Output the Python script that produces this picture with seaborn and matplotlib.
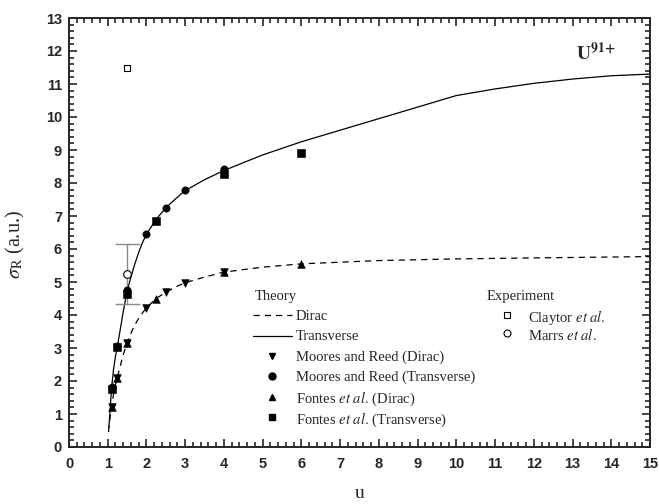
import matplotlib
matplotlib.use("Agg")
import matplotlib.pyplot as plt
import seaborn as sns
from matplotlib.ticker import MultipleLocator, AutoMinorLocator

# theory curves
u_dirac = [1.02, 1.05, 1.1, 1.15, 1.2, 1.25, 1.3, 1.4, 1.5, 1.6, 1.7, 1.8, 1.9, 2.0,
           2.25, 2.5, 2.75, 3.0, 3.5, 4.0, 5.0, 6.0, 8.0, 10.0, 12.0, 15.0]
sigma_dirac = [0.45, 0.8, 1.22, 1.6, 1.9, 2.1, 2.35, 2.8, 3.14, 3.45, 3.7, 3.9, 4.07, 4.22,
               4.5, 4.69, 4.85, 4.98, 5.15, 5.3, 5.45, 5.55, 5.65, 5.7, 5.73, 5.77]
u_trans = [1.03, 1.06, 1.1, 1.15, 1.2, 1.25, 1.3, 1.4, 1.5, 1.6, 1.7, 1.8, 1.9, 2.0,
           2.25, 2.5, 2.75, 3.0, 3.5, 4.0, 5.0, 6.0, 7.0, 8.0, 9.0, 10.0, 11.0, 12.0,
           13.0, 14.0, 15.0]
sigma_trans = [0.6, 1.1, 1.8, 2.35, 2.75, 3.05, 3.4, 4.1, 4.72, 5.15, 5.55, 5.9, 6.2, 6.45,
               6.9, 7.25, 7.52, 7.77, 8.1, 8.38, 8.85, 9.25, 9.6, 9.95, 10.3, 10.65, 10.85,
               11.02, 11.15, 11.25, 11.3]

# calculated points
mr_dirac_u = [1.1, 1.25, 1.5, 2.0, 2.5, 3.0, 4.0]
mr_dirac_s = [1.22, 2.1, 3.14, 4.22, 4.69, 4.98, 5.3]
mr_trans_u = [1.1, 1.25, 1.5, 2.0, 2.5, 3.0, 4.0]
mr_trans_s = [1.83, 3.06, 4.75, 6.44, 7.25, 7.78, 8.41]
fo_dirac_u = [1.1, 1.25, 1.5, 2.25, 4.0, 6.0]
fo_dirac_s = [1.22, 2.1, 3.14, 4.5, 5.3, 5.56]
fo_trans_u = [1.1, 1.25, 1.5, 2.25, 4.0, 6.0]
fo_trans_s = [1.75, 3.04, 4.65, 6.85, 8.27, 8.9]

# experiment
claytor_u = [1.5]
claytor_s = [11.47]
marrs_u = [1.5]
marrs_s = [5.23]
marrs_err = [0.91]

theory_labels = [
    "Dirac",
    "Transverse",
    "Moores and Reed (Dirac)",
    "Moores and Reed (Transverse)",
    r"Fontes $\mathit{et\ al.}\,$(Dirac)",
    r"Fontes $\mathit{et\ al.}\,$(Transverse)",
]
exp_labels = [r"Claytor $\mathit{et\ al.}$", r"Marrs $\mathit{et\ al.}$"]

sns.set_style("ticks")
plt.rcParams["mathtext.fontset"] = "stix"
plt.rcParams["font.family"] = ["Liberation Serif", "DejaVu Serif"]

W, H = 659, 504
fig, ax = plt.subplots(figsize=(W / 100, H / 100), dpi=100)
fig.subplots_adjust(left=69 / W, right=650 / W, bottom=1 - 447 / H, top=1 - 18 / H)

dash = (0, (5, 4))
sns.lineplot(x=u_dirac, y=sigma_dirac, ax=ax, color="black", lw=0.9,
             linestyle=dash, sort=False, estimator=None)
sns.lineplot(x=u_trans, y=sigma_trans, ax=ax, color="black", lw=0.9,
             sort=False, estimator=None)

ax.errorbar(marrs_u, marrs_s, yerr=marrs_err, fmt="none", ecolor="#8a8a8a",
            elinewidth=1.0, capsize=9, capthick=1.0, zorder=2)

sns.scatterplot(x=mr_dirac_u, y=mr_dirac_s, ax=ax, marker="v", s=30, color="black",
                edgecolor="black", zorder=3)
sns.scatterplot(x=fo_dirac_u, y=fo_dirac_s, ax=ax, marker="^", s=30, color="black",
                edgecolor="black", zorder=3)
sns.scatterplot(x=mr_trans_u, y=mr_trans_s, ax=ax, marker="o", s=28, color="black",
                edgecolor="black", zorder=3)
sns.scatterplot(x=fo_trans_u, y=fo_trans_s, ax=ax, marker="s", s=26, color="black",
                edgecolor="black", zorder=3)
sns.scatterplot(x=claytor_u, y=claytor_s, ax=ax, marker="s", s=22, facecolor="white",
                edgecolor="black", linewidth=0.8, zorder=3)
sns.scatterplot(x=marrs_u, y=marrs_s, ax=ax, marker="o", s=30, facecolor="white",
                edgecolor="black", linewidth=0.8, zorder=4)

ax.set_xlim(0, 15)
ax.set_ylim(0, 13)
ax.xaxis.set_major_locator(MultipleLocator(1))
ax.yaxis.set_major_locator(MultipleLocator(1))
ax.xaxis.set_minor_locator(AutoMinorLocator(5))
ax.yaxis.set_minor_locator(AutoMinorLocator(5))
ax.tick_params(which="both", direction="in", top=True, right=True, width=1.2)
ax.tick_params(which="major", length=6)
ax.tick_params(which="minor", length=3.5)
ax.tick_params(axis="x", pad=7)
ax.tick_params(axis="y", pad=5)
for lab in ax.get_xticklabels() + ax.get_yticklabels():
    lab.set_fontfamily("Liberation Sans")
    lab.set_fontweight("bold")
    lab.set_fontsize(10.5)
for sp in ax.spines.values():
    sp.set_linewidth(1.4)

ax.set_xlabel("u", fontsize=14, labelpad=10)
ax.set_ylabel(r"$\sigma_\mathrm{R}$ (a.u.)", fontsize=14.5)
ax.yaxis.set_label_coords(-0.072, 0.472)

ax.text(13.1, 11.73, r"$\mathbf{U}^{\mathbf{91{+}}}$", fontsize=14, ha="left",
        va="baseline")

# legend blocks, laid out by hand in figure pixels
fs = 10.5


def fx(px):
    return px / W


def fy(py):
    return 1 - py / H


tr = fig.transFigure
fig.text(fx(255), fy(295), "Theory", fontsize=fs, ha="left", va="center_baseline")
rows = [315, 335.5, 356, 376, 396.5, 417]
fig.add_artist(plt.Line2D([fx(253), fx(292)], [fy(rows[0])] * 2, color="black",
                          lw=0.9, linestyle=dash, transform=tr))
fig.add_artist(plt.Line2D([fx(253), fx(292)], [fy(rows[1])] * 2, color="black",
                          lw=0.9, transform=tr))
for py, m, ms in zip(rows[2:], ["v", "o", "^", "s"], [5, 5, 5, 4.5]):
    fig.add_artist(plt.Line2D([fx(272)], [fy(py)], color="black", marker=m, ms=ms,
                              ls="none", transform=tr))
for py, lab in zip(rows, theory_labels):
    fig.text(fx(296), fy(py), lab, fontsize=fs, ha="left", va="center_baseline")

fig.text(fx(487), fy(295), "Experiment", fontsize=fs, ha="left", va="center_baseline")
exp_rows = [315, 333]
for py, m, ms, lab in zip(exp_rows, ["s", "o"], [4.5, 5], exp_labels):
    fig.add_artist(plt.Line2D([fx(507)], [fy(py)], color="black", marker=m, ms=ms,
                              mfc="white", mew=0.8, ls="none", transform=tr))
    fig.text(fx(528), fy(py), lab, fontsize=fs, ha="left", va="center_baseline")

fig.savefig("out.png", dpi=100)
